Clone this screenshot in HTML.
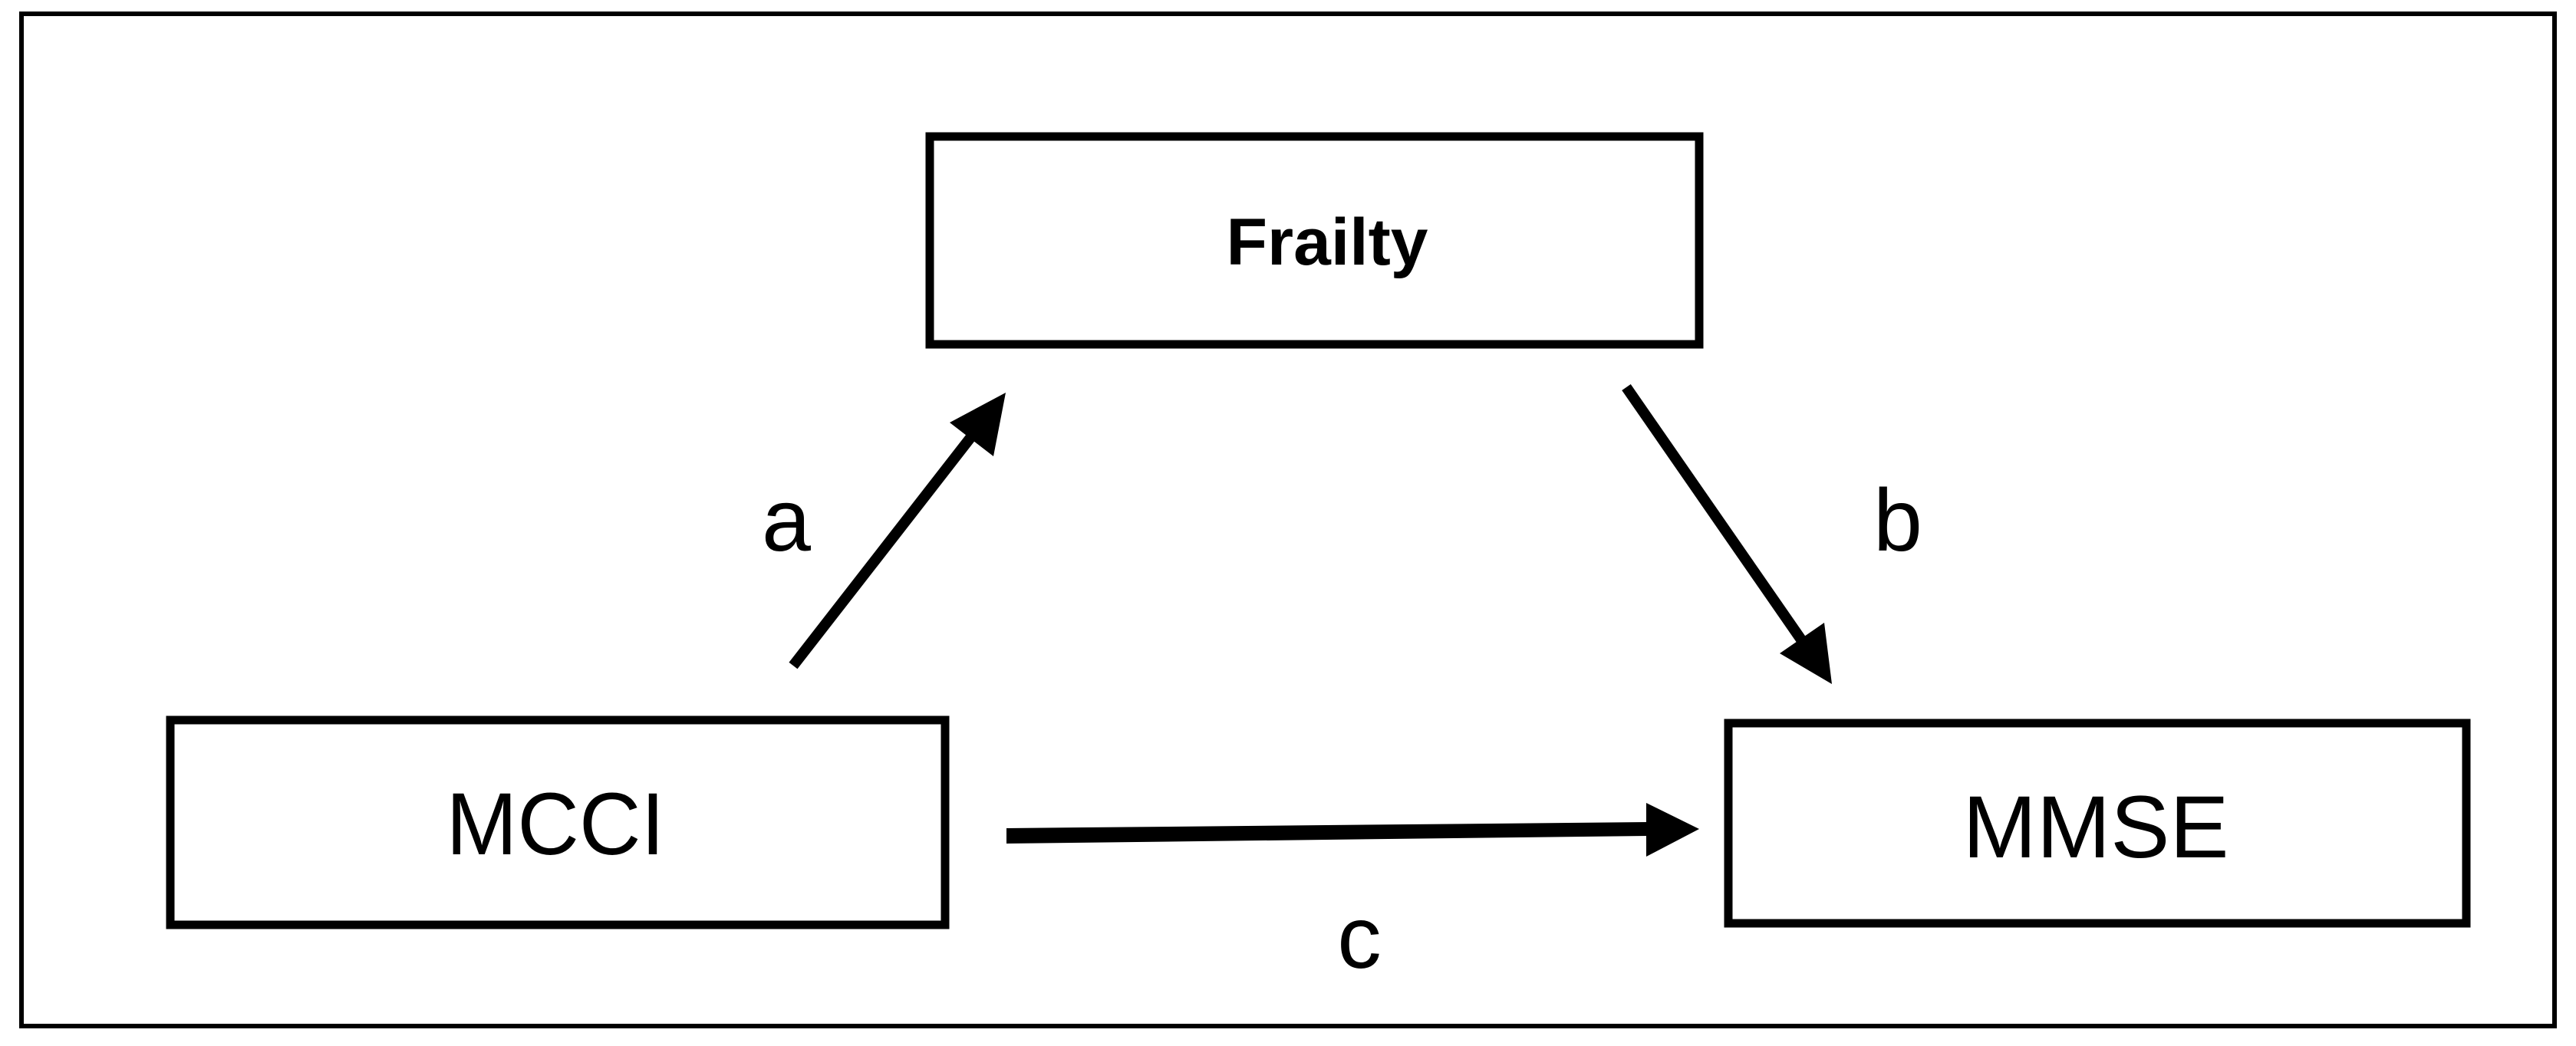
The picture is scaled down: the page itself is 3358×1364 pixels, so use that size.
<!DOCTYPE html>
<html><head><style>html,body{margin:0;padding:0;background:#fff;}svg{display:block}</style></head>
<body>
<svg width="3358" height="1364" viewBox="0 0 3358 1364" xmlns="http://www.w3.org/2000/svg">
<rect x="0" y="0" width="3358" height="1364" fill="#fff"/>
<rect x="28" y="18" width="3302" height="1320" fill="none" stroke="#000" stroke-width="6"/>
<!-- boxes -->
<rect x="1212" y="178" width="1003" height="271" fill="#fff" stroke="#000" stroke-width="11"/>
<rect x="222" y="939" width="1010" height="267" fill="#fff" stroke="#000" stroke-width="11"/>
<rect x="2253" y="943" width="962" height="261" fill="#fff" stroke="#000" stroke-width="11"/>
<text x="1730" y="345" font-family="Liberation Sans, sans-serif" font-weight="bold" font-size="86" text-anchor="middle" textLength="263" lengthAdjust="spacingAndGlyphs">Frailty</text>
<text x="724" y="1114" font-family="Liberation Sans, sans-serif" font-size="115" text-anchor="middle" textLength="285" lengthAdjust="spacingAndGlyphs">MCCI</text>
<text x="2732" y="1118" font-family="Liberation Sans, sans-serif" font-size="115" text-anchor="middle" textLength="347" lengthAdjust="spacingAndGlyphs">MMSE</text>
<text x="1025" y="718" font-family="Liberation Sans, sans-serif" font-size="115" text-anchor="middle">a</text>
<text x="2474" y="718" font-family="Liberation Sans, sans-serif" font-size="115" text-anchor="middle">b</text>
<text x="1772" y="1262" font-family="Liberation Sans, sans-serif" font-size="115" text-anchor="middle">c</text>
<!-- arrow a -->
<line x1="1034" y1="868" x2="1268" y2="567" stroke="#000" stroke-width="14"/>
<polygon points="1311,512 1295,595 1238,551" fill="#000"/>
<!-- arrow b -->
<line x1="2120" y1="505" x2="2350" y2="837" stroke="#000" stroke-width="14"/>
<polygon points="2388,892 2320,852 2378,812" fill="#000"/>
<!-- arrow c -->
<polygon points="1312,1080 2148,1072 2148,1090 1312,1100" fill="#000"/>
<polygon points="2215,1081 2146,1047 2146,1117" fill="#000"/>
</svg>
</body></html>
